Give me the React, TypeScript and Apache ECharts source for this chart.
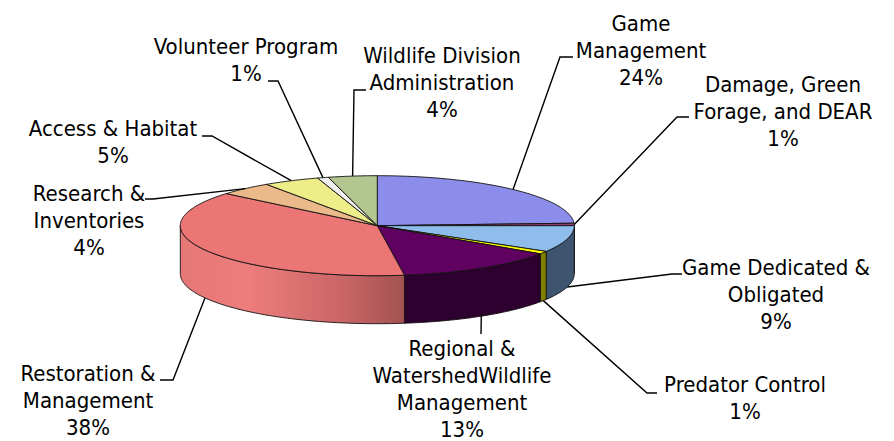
import React, { useEffect, useRef } from 'react';
import * as echarts from 'echarts';

const categories = [
  'Game\nManagement',
  'Damage, Green\nForage, and DEAR',
  'Game Dedicated &\nObligated',
  'Predator Control',
  'Regional &\nWatershedWildlife\nManagement',
  'Restoration &\nManagement',
  'Research &\nInventories',
  'Access & Habitat',
  'Volunteer Program',
  'Wildlife Division\nAdministration',
];
const values = [24.2, 0.8, 8.6, 0.9, 13.3, 38.3, 4.4, 4.6, 0.9, 4.0];

const topColors = ['#8C8CEB', '#9A3A6A', '#8EBDEB', '#FFFF00', '#600060', '#EC7575', '#EBB98A', '#EDED8A', '#EEEEEE', '#B3C690'];
const sideColors = ['#4A4A80', '#5A2040', '#3E5570', '#7F7F00', '#2E002F', 'gradient', '#806448', '#80804A', '#909090', '#5E6A4A'];

// label layout: elbow point, end point, text block centre
const labelLayout = [
  { elbow: [560, 57], end: [573, 57], text: [641, 50] },
  { elbow: [677, 117], end: [689, 117], text: [783, 111] },
  { elbow: [672, 274], end: [682, 274], text: [776, 294] },
  { elbow: [647, 393], end: [657, 393], text: [745, 398] },
  { elbow: [481, 334], end: [481, 334], text: [462, 389] },
  { elbow: [173, 380], end: [160, 380], text: [88, 400] },
  { elbow: [153, 199], end: [145, 199], text: [89, 220] },
  { elbow: [212, 136], end: [202, 136], text: [113, 142] },
  { elbow: [278, 81], end: [268, 81], text: [246, 60] },
  { elbow: [354, 90], end: [366, 90], text: [442, 82] },
];

const CX = 377.3, CY = 225.7, RX = 197, RY = 50, DEPTH = 48;
const FONT = "'DejaVu Sans Condensed', 'DejaVu Sans', sans-serif";

export default function App() {
  const ref = useRef<HTMLDivElement>(null);
  useEffect(() => {
    if (!ref.current) return;
    const chart = echarts.init(ref.current, undefined, { renderer: 'svg' });
    const total = values.reduce((a, b) => a + b, 0);
    const pt = (deg: number, dy = 0) => {
      const r = (deg * Math.PI) / 180;
      return [CX + RX * Math.cos(r), CY - RY * Math.sin(r) + dy];
    };
    const arc = (from: number, to: number, dy = 0) => {
      const pts: number[][] = [];
      const n = Math.max(2, Math.ceil(from - to));
      for (let k = 0; k <= n; k++) pts.push(pt(from - ((from - to) * k) / n, dy));
      return pts;
    };
    const restGrad = new echarts.graphic.LinearGradient(0, 0, 1, 0, [
      { offset: 0, color: '#E67777' },
      { offset: 0.3, color: '#EE7D7D' },
      { offset: 0.7, color: '#CC6767' },
      { offset: 1, color: '#A45252' },
    ]);

    const renderItem = (params: any, api: any) => {
      const i = params.dataIndex;
      const v = api.value(0);
      let before = 0;
      for (let k = 0; k < i; k++) before += values[k];
      const s = 90 - (before / total) * 360;
      const e = s - (v / total) * 360;
      const children: any[] = [];
      const hi = Math.min(s, 0), lo = Math.max(e, -180);
      if (hi > lo) {
        const top = arc(hi, lo);
        const bot = arc(hi, lo, DEPTH).reverse();
        children.push({
          type: 'polygon',
          shape: { points: top.concat(bot) },
          style: { fill: sideColors[i] === 'gradient' ? restGrad : sideColors[i], stroke: '#111', lineWidth: 0.9 },
        });
      }
      children.push({
        type: 'polygon',
        shape: { points: [[CX, CY], ...arc(s, e)] },
        style: { fill: topColors[i], stroke: '#111', lineWidth: 0.9 },
      });
      const mid = (s + e) / 2;
      const front = Math.sin((mid * Math.PI) / 180) < 0;
      const p = pt(mid, front ? DEPTH : 0);
      const L = labelLayout[i];
      children.push({
        type: 'polyline',
        z2: 10,
        shape: { points: [p, L.elbow, L.end] },
        style: { fill: 'none', stroke: '#000', lineWidth: 1.4 },
      });
      children.push({
        type: 'text',
        z2: 11,
        style: {
          text: `${categories[i]}\n${Math.round((v / total) * 100)}%`,
          x: L.text[0],
          y: L.text[1],
          align: 'center',
          verticalAlign: 'middle',
          fontSize: 22,
          lineHeight: 27,
          fontFamily: FONT,
          fill: '#000',
        },
      });
      return { type: 'group', children };
    };

    chart.setOption({
      animation: false,
      backgroundColor: '#ffffff',
      series: [
        {
          type: 'custom',
          coordinateSystem: 'none',
          silent: true,
          renderItem,
          data: values.map((v) => [v]),
        },
      ],
    });
    return () => chart.dispose();
  }, []);
  return <div ref={ref} style={{ position: 'fixed', left: 0, top: 0, width: 894, height: 441 }} />;
}
